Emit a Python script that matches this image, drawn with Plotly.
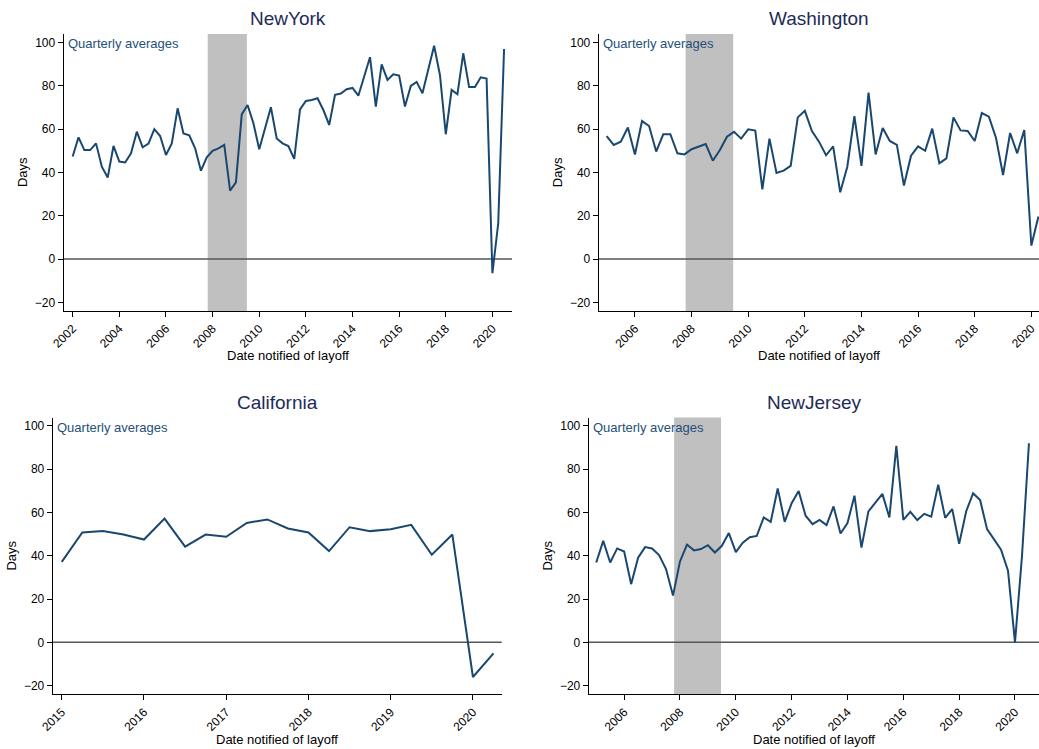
import plotly.graph_objects as go

# ---------------- data ----------------
ny_start = (2002, 1)
ny_days = [47.3, 56.2, 50.3, 50.3, 53.4, 42.6, 37.6, 52.2, 45.0, 44.6,
           48.8, 58.8, 51.6, 53.3, 60.0, 56.8, 48.0, 53.4, 69.6, 58.0,
           57.1, 51.1, 40.8, 47.0, 50.0, 51.1, 52.7, 31.6, 35.4, 66.8,
           71.1, 62.7, 50.7, 60.3, 70.1, 55.7, 53.4, 52.2, 46.2, 69.1,
           73.0, 73.4, 74.2, 68.8, 61.9, 75.8, 76.4, 78.4, 79.0, 75.4,
           84.2, 93.2, 70.4, 89.9, 82.7, 85.3, 84.7, 70.4, 79.9, 81.8,
           76.5, 88.1, 98.5, 85.0, 57.6, 78.1, 76.1, 95.0, 79.4, 79.4,
           83.9, 83.3, -6.5, 16.5, 97.0]

wa_start = (2005, 1)
wa_days = [56.8, 52.7, 54.2, 60.7, 48.3, 63.7, 61.4, 49.6, 57.6, 57.6,
           48.8, 48.3, 50.7, 51.9, 53.1, 45.4, 50.3, 56.5, 58.7, 55.6,
           59.9, 59.3, 32.2, 55.6, 39.7, 40.8, 43.0, 65.4, 68.4, 59.1,
           54.2, 47.9, 52.0, 30.8, 42.6, 66.0, 43.0, 76.8, 48.3, 60.5,
           54.5, 52.7, 33.9, 47.7, 52.0, 50.0, 60.2, 44.2, 46.5, 65.4,
           59.4, 59.1, 54.5, 67.4, 65.7, 56.0, 38.8, 58.2, 48.8, 59.6,
           6.2, 19.6]

ca_start = (2015, 1)
ca_days = [37.2, 50.8, 51.4, 49.8, 47.5, 57.2, 44.2, 49.8, 48.8, 55.2,
           56.8, 52.6, 50.8, 42.2, 53.2, 51.4, 52.3, 54.3, 40.5, 49.8,
           -16.0, -5.1]

nj_start = (2005, 1)
nj_days = [36.9, 46.9, 36.9, 43.4, 42.0, 26.9, 39.1, 44.0, 43.4, 40.3,
           33.9, 21.6, 37.4, 45.2, 42.5, 43.1, 44.9, 41.5, 44.6, 50.5,
           41.7, 46.1, 48.6, 49.2, 57.7, 55.7, 71.1, 55.7, 64.3, 69.9,
           58.5, 54.6, 56.6, 54.2, 62.8, 50.3, 55.1, 67.8, 43.8, 60.5,
           64.6, 68.6, 57.7, 90.8, 56.6, 60.3, 56.5, 59.4, 58.1, 72.9,
           57.5, 61.6, 45.5, 60.5, 68.9, 65.8, 52.3, 47.7, 42.8, 33.1,
           0.0, 39.7, 92.0]

recession = (2007.79, 2009.47)
y_ticks = [-20, 0, 20, 40, 60, 80, 100]

ny_ticks = list(range(2002, 2021, 2))
wa_ticks = list(range(2006, 2021, 2))
ca_ticks = list(range(2015, 2021))
nj_ticks = list(range(2006, 2021, 2))


def quarters(start, n):
    y, q = start
    labels = []
    for _ in range(n):
        labels.append(f"{y}Q{q}")
        q += 1
        if q > 4:
            q = 1
            y += 1
    return labels


def q_to_num(lbl):
    y, q = lbl.split("Q")
    return int(y) + (int(q) - 1) / 4.0


# ---------------- layout helpers ----------------
W, H = 1039, 749
LINE = "#1a476f"
TITLE = "#1e2b58"
TEXT = "#24507a"
FONT = "Liberation Sans, Arial, Helvetica, sans-serif"


def px(x):
    return x / W


def py(y):
    return 1 - y / H


panels = [
    dict(name="NewYork", start=ny_start, vals=ny_days, ticks=ny_ticks,
         xr=[2001.61, 2020.84], dom_x=(63.6, 512), dom_y=(34, 311), rec=True),
    dict(name="Washington", start=wa_start, vals=wa_days, ticks=wa_ticks,
         xr=[2004.72, 2020.27], dom_x=(598.7, 1039), dom_y=(34, 311), rec=True),
    dict(name="California", start=ca_start, vals=ca_days, ticks=ca_ticks,
         xr=[2014.89, 2020.35], dom_x=(52.7, 501.7), dom_y=(417.5, 694.3), rec=False),
    dict(name="NewJersey", start=nj_start, vals=nj_days, ticks=nj_ticks,
         xr=[2004.73, 2020.86], dom_x=(588.7, 1039), dom_y=(417.5, 694.3), rec=True),
]

fig = go.Figure()
shapes = []
annotations = []

for i, p in enumerate(panels):
    k = "" if i == 0 else str(i + 1)
    xa, ya = "x" + k, "y" + k
    labels = quarters(p["start"], len(p["vals"]))
    xs = [q_to_num(l) for l in labels]
    fig.add_trace(go.Scatter(x=xs, y=p["vals"], mode="lines",
                             line=dict(color=LINE, width=2),
                             xaxis=xa, yaxis=ya, showlegend=False,
                             text=labels, hoverinfo="text+y"))
    x0, x1 = p["dom_x"]
    y0, y1 = p["dom_y"]
    axis_common = dict(showgrid=False, zeroline=False, showline=True,
                       linecolor="#000000", linewidth=1, ticks="outside",
                       ticklen=5, tickwidth=1, tickcolor="#000000",
                       automargin=False,
                       tickfont=dict(family=FONT, size=12, color="#000000"))
    fig.update_layout(**{
        "xaxis" + k: dict(domain=[px(x0), min(px(x1), 1.0)], range=p["xr"],
                          tickvals=p["ticks"], ticktext=[str(t) for t in p["ticks"]],
                          tickangle=-45, anchor=ya, **axis_common),
        "yaxis" + k: dict(domain=[py(y1), py(y0)], range=[-24, 103.9],
                          tickvals=y_ticks, anchor=xa, **axis_common),
    })
    if p["rec"]:
        shapes.append(dict(type="rect", xref=xa, yref=ya + " domain",
                           x0=recession[0], x1=recession[1], y0=0, y1=1,
                           fillcolor="#c0c0c0", line=dict(width=0), layer="below"))
    shapes.append(dict(type="line", xref=xa + " domain", yref=ya,
                       x0=0, x1=1, y0=0, y1=0,
                       line=dict(color="#555555", width=1.5), layer="below"))
    cx = (x0 + x1) / 2
    # title
    annotations.append(dict(text=p["name"], xref="paper", yref="paper",
                            x=px(cx), y=py(y0 - 3), xanchor="center", yanchor="bottom",
                            showarrow=False,
                            font=dict(family=FONT, size=19, color=TITLE)))
    # quarterly averages label
    annotations.append(dict(text="Quarterly averages", xref=xa + " domain",
                            yref=ya + " domain", x=0.005, y=1.0,
                            xanchor="left", yanchor="top", showarrow=False,
                            font=dict(family=FONT, size=13, color=TEXT)))
    # y title
    annotations.append(dict(text="Days", xref="paper", yref="paper",
                            x=px(x0 - 41), y=py((y0 + y1) / 2), textangle=-90,
                            xanchor="center", yanchor="middle", showarrow=False,
                            font=dict(family=FONT, size=13, color="#000000")))
    # x title
    annotations.append(dict(text="Date notified of layoff", xref="paper", yref="paper",
                            x=px(cx), y=py(y1 + 45), xanchor="center", yanchor="middle",
                            showarrow=False,
                            font=dict(family=FONT, size=13, color="#000000")))

fig.update_layout(width=W, height=H, margin=dict(l=0, r=0, t=0, b=0, autoexpand=False),
                  paper_bgcolor="white", plot_bgcolor="white",
                  shapes=shapes, annotations=annotations,
                  font=dict(family=FONT))

fig.write_html("out.html", config={"displayModeBar": False},
               post_script="document.body.style.margin='0';document.body.style.padding='0';")
